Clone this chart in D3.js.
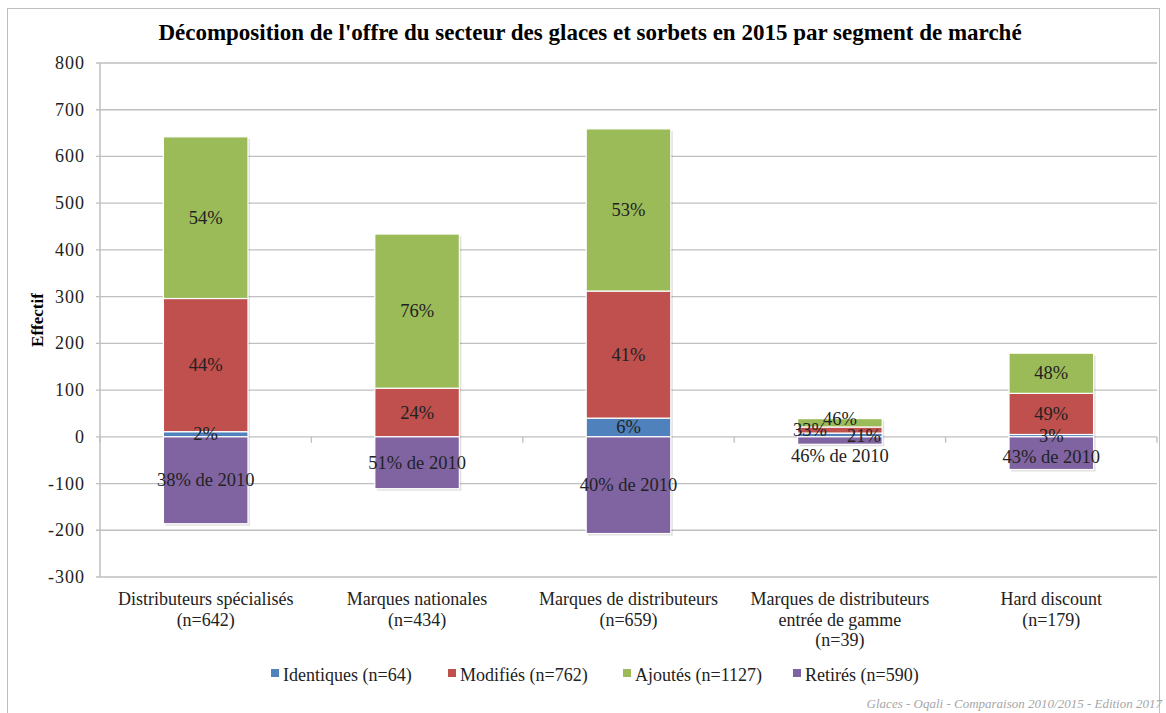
<!DOCTYPE html>
<html>
<head>
<meta charset="utf-8">
<script src="https://cdn.jsdelivr.net/npm/d3@7"></script>
<style>
  body { margin: 0; background: white; }
  svg { display: block; }
</style>
</head>
<body>
<svg class="canvas"></svg>
<script>
// data
let categories = [
  ["Distributeurs spécialisés", "(n=642)"],
  ["Marques nationales", "(n=434)"],
  ["Marques de distributeurs", "(n=659)"],
  ["Marques de distributeurs", "entrée de gamme", "(n=39)"],
  ["Hard discount", "(n=179)"]
];
let identiques = [11, 0, 40, 8, 5];
let modifies   = [285, 104, 272, 13, 88];
let ajoutes    = [346, 330, 347, 18, 86];
let retires    = [-186, -111, -207, -16, -70];

let pctIdentiques = ["2%", "", "6%", "21%", "3%"];
let pctModifies   = ["44%", "24%", "41%", "33%", "49%"];
let pctAjoutes    = ["54%", "76%", "53%", "46%", "48%"];
let pctRetires    = ["38% de 2010", "51% de 2010", "40% de 2010", "46% de 2010", "43% de 2010"];

let seriesNames = ["Identiques (n=64)", "Modifiés (n=762)", "Ajoutés (n=1127)", "Retirés (n=590)"];
let yTicks = [-300, -200, -100, 0, 100, 200, 300, 400, 500, 600, 700, 800];

//params
let width = 1166;
let height = 713;
let colors = ["#4F81BD", "#C0504D", "#9BBB59", "#8064A2"];
let serif = "'Liberation Serif', 'DejaVu Serif', serif";
//----------

let svg = d3.select(".canvas").attr("width", width).attr("height", height);

// outer frame
svg.append("rect").attr("x", 7.5).attr("y", 8.5).attr("width", 1152).attr("height", 720)
  .attr("fill", "none").attr("stroke", "#bdbdbd").attr("stroke-width", 1);

let x = d3.scaleBand().domain(d3.range(categories.length)).range([100, 1157])
  .paddingInner(0.6).paddingOuter(0.3);
let y = d3.scaleLinear().domain([-300, 800]).range([577, 63]);

// gridlines
svg.append("g").selectAll("line").data(yTicks).enter().append("line")
  .attr("x1", 96).attr("x2", 1157)
  .attr("y1", d => y(d)).attr("y2", d => y(d))
  .attr("stroke", "#bfbfbf").attr("stroke-width", 1.3);

// y axis line
svg.append("line").attr("x1", 100).attr("x2", 100).attr("y1", y(800)).attr("y2", y(-300))
  .attr("stroke", "#bfbfbf").attr("stroke-width", 1.5);

// category ticks on zero line
let bounds = d3.range(categories.length + 1).map(i => 100 + i * x.step());
svg.append("g").selectAll("line").data(bounds).enter().append("line")
  .attr("x1", d => d).attr("x2", d => d).attr("y1", y(0)).attr("y2", y(0) + 6)
  .attr("stroke", "#bfbfbf").attr("stroke-width", 1.3);

// y tick labels
svg.append("g").selectAll("text").data(yTicks).enter().append("text")
  .attr("x", 85).attr("y", d => y(d) + 6)
  .attr("text-anchor", "end")
  .style("font-family", serif).style("font-size", "18px").style("fill", "#222")
  .style("letter-spacing", "1px")
  .text(d => d);

// y axis title
svg.append("text").attr("transform", "translate(43,320) rotate(-90)")
  .attr("text-anchor", "middle")
  .style("font-family", serif).style("font-size", "17px").style("font-weight", "bold")
  .text("Effectif");

// title
svg.append("text").attr("x", 590).attr("y", 40).attr("text-anchor", "middle")
  .style("font-family", serif).style("font-size", "23px").style("font-weight", "bold")
  .text("Décomposition de l'offre du secteur des glaces et sorbets en 2015 par segment de marché");

// stacked bars
let rows = categories.map((c, i) => ({i: i, a: identiques[i], b: modifies[i], c: ajoutes[i], d: retires[i]}));
let keys = ["a", "b", "c", "d"];
let labels = {a: pctIdentiques, b: pctModifies, c: pctAjoutes, d: pctRetires};
let stack = d3.stack().keys(keys).offset(d3.stackOffsetDiverging);
let layers = stack(rows);

let barG = svg.append("g");
// soft shadow
barG.selectAll(".shadow").data(rows).enter().append("rect")
  .attr("x", d => x(d.i) + 2).attr("width", x.bandwidth())
  .attr("y", d => y(d.a + d.b + d.c) + 2)
  .attr("height", d => y(d.d) - y(d.a + d.b + d.c))
  .attr("fill", "#000").attr("opacity", 0.12);

layers.forEach((layer, k) => {
  barG.selectAll(".s" + k).data(layer).enter().append("rect")
    .attr("x", (d, i) => x(i))
    .attr("width", x.bandwidth())
    .attr("y", d => y(d[1]))
    .attr("height", d => y(d[0]) - y(d[1]))
    .attr("fill", colors[k])
    .attr("stroke", "white").attr("stroke-width", 1.2);
});

// label nudges for the crowded bars (layout only)
let nudge = {"3a": [24, 1], "3b": [-30, 0], "3c": [0, -4], "3d": [0, 15],
             "4a": [0, 0], "4d": [0, 4]};

let labG = svg.append("g");
layers.forEach((layer, k) => {
  let key = keys[k];
  labG.selectAll(".l" + k).data(layer).enter().append("text")
    .attr("x", (d, i) => x(i) + x.bandwidth() / 2 + (nudge[i + key] ? nudge[i + key][0] : 0))
    .attr("y", (d, i) => y((d[0] + d[1]) / 2) + 6 + (nudge[i + key] ? nudge[i + key][1] : 0))
    .attr("text-anchor", "middle")
    .style("font-family", serif).style("font-size", "18.5px").style("fill", "#222")
    .text((d, i) => labels[key][i]);
});

// category labels
let catG = svg.append("g");
categories.forEach((lines, i) => {
  lines.forEach((line, j) => {
    catG.append("text")
      .attr("x", x(i) + x.bandwidth() / 2).attr("y", 605 + j * 20.5)
      .attr("text-anchor", "middle")
      .style("font-family", serif).style("font-size", "18px").style("fill", "#222")
      .text(line);
  });
});

// legend
let legendX = [271, 448, 623, 793];
let legG = svg.append("g");
seriesNames.forEach((name, k) => {
  legG.append("rect").attr("x", legendX[k]).attr("y", 669).attr("width", 8).attr("height", 8)
    .attr("fill", colors[k]);
  legG.append("text").attr("x", legendX[k] + 12).attr("y", 681)
    .style("font-family", serif).style("font-size", "18px").style("fill", "#222")
    .text(name);
});

// source
svg.append("text").attr("x", 1162).attr("y", 708).attr("text-anchor", "end")
  .style("font-family", serif).style("font-size", "13px").style("font-style", "italic")
  .style("fill", "#a6a6a6")
  .text("Glaces - Oqali - Comparaison 2010/2015 - Edition 2017");
</script>
</body>
</html>
